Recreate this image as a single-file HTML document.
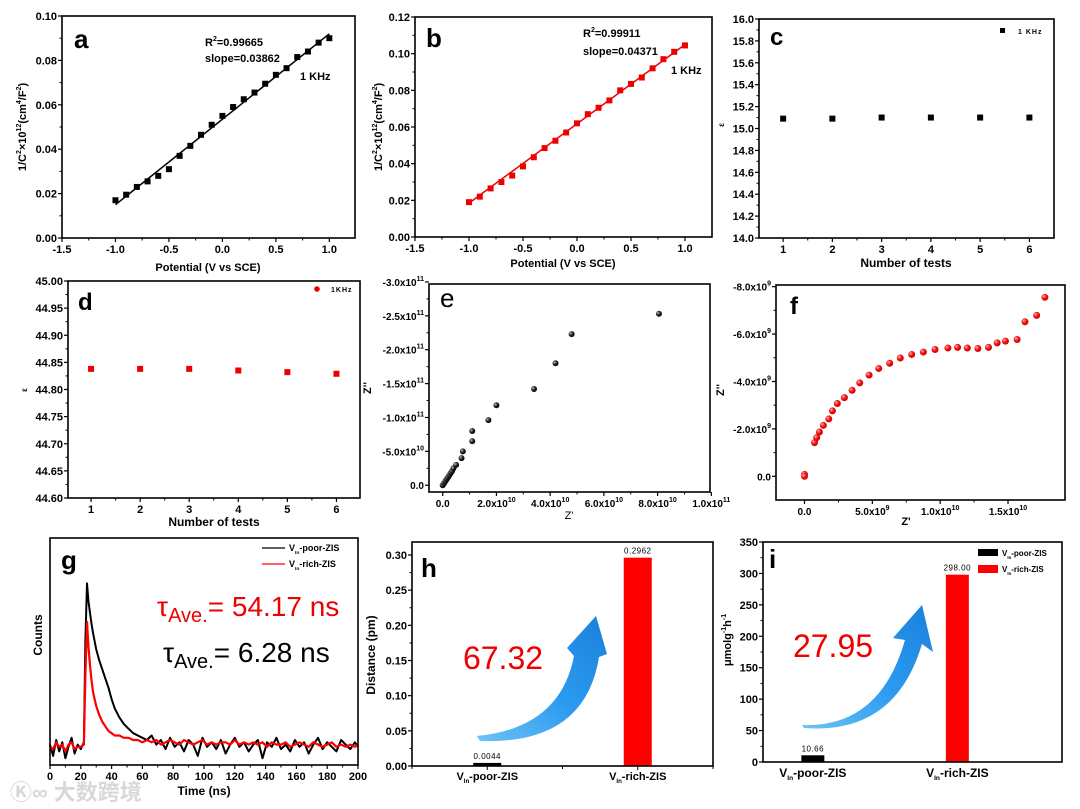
<!DOCTYPE html>
<html><head><meta charset="utf-8"><style>
html,body{margin:0;padding:0;background:#fff;}
svg{display:block;font-family:"Liberation Sans","Noto Sans CJK SC",sans-serif;}
</style></head><body>
<svg id="fig" width="1080" height="809" viewBox="0 0 1080 809" xmlns="http://www.w3.org/2000/svg">
<defs>
<linearGradient id="arrowGrad" x1="0" y1="1" x2="1" y2="0">
<stop offset="0" stop-color="#6ec3f5"/><stop offset="0.5" stop-color="#2a9af0"/><stop offset="1" stop-color="#1b80db"/>
</linearGradient>
<radialGradient id="ballBlack" cx="0.35" cy="0.35" r="0.7"><stop offset="0" stop-color="#bbb"/><stop offset="0.5" stop-color="#222"/><stop offset="1" stop-color="#000"/></radialGradient>
<radialGradient id="ballRed" cx="0.35" cy="0.35" r="0.7"><stop offset="0" stop-color="#ffb0b0"/><stop offset="0.5" stop-color="#f01010"/><stop offset="1" stop-color="#c00"/></radialGradient>
</defs>
</svg>
<script>
// ---------- data ----------
const aX = [-1,-0.9,-0.8,-0.7,-0.6,-0.5,-0.4,-0.3,-0.2,-0.1,0,0.1,0.2,0.3,0.4,0.5,0.6,0.7,0.8,0.9,1.0];
const aY = [0.017,0.0195,0.023,0.0255,0.028,0.031,0.037,0.0415,0.0465,0.051,0.055,0.059,0.0625,0.0655,0.0695,0.0735,0.0765,0.0815,0.084,0.088,0.090];
const aFitX = [-1,1];
const aFitY = [0.015,0.092];
const bX = [-1,-0.9,-0.8,-0.7,-0.6,-0.5,-0.4,-0.3,-0.2,-0.1,0,0.1,0.2,0.3,0.4,0.5,0.6,0.7,0.8,0.9,1.0];
const bY = [0.019,0.022,0.0265,0.030,0.0335,0.0385,0.0435,0.0485,0.0525,0.057,0.062,0.067,0.0705,0.0745,0.080,0.0835,0.087,0.092,0.097,0.101,0.1045];
const bFitX = [-1,1];
const bFitY = [0.0185,0.105];
const cTests = [1,2,3,4,5,6];
const cEps = [15.09,15.09,15.10,15.10,15.10,15.10];
const dTests = [1,2,3,4,5,6];
const dEps = [44.838,44.838,44.838,44.835,44.832,44.829];
// e: Z' in 1e10, -Z'' in 1e11
const eZre = [0,0.05,0.1,0.15,0.2,0.25,0.3,0.35,0.4,0.5,0.7,0.75,1.1,1.1,1.7,2.0,3.4,4.2,4.8,8.05];
const eZim = [0,0.03,0.06,0.09,0.12,0.15,0.18,0.21,0.25,0.3,0.4,0.5,0.65,0.8,0.96,1.18,1.42,1.8,2.23,2.53];
// f: Z' in 1e10, -Z'' in 1e9
const fZre = [0,0,0.074,0.09,0.11,0.139,0.179,0.206,0.242,0.294,0.351,0.407,0.476,0.547,0.628,0.706,0.79,0.876,0.962,1.057,1.128,1.2,1.278,1.356,1.42,1.481,1.567,1.625,1.711,1.772];
const fZim = [0.08,0,1.42,1.63,1.87,2.15,2.42,2.76,3.07,3.32,3.63,3.94,4.27,4.55,4.77,4.99,5.14,5.24,5.35,5.41,5.44,5.41,5.39,5.44,5.63,5.70,5.77,6.52,6.79,7.55];
// g: time-resolved PL
const gTime = [0,2,4,6,8,10,12,14,16,18,20,22,23,24,25,26,27,28,30,32,34,36,38,40,42,45,48,51,54,57,60,63,66,69,72,75,78,81,84,87,90,93,96,99,102,105,108,111,114,117,120,123,126,129,132,135,138,141,144,147,150,153,156,159,162,165,168,171,174,177,180,183,186,189,192,195,198,200];
const gPoor = [9,4,11,6,10,3,8,12,5,9,7,10,55,80,72,67,62,58,51,46,42,38,34,29,25,21,18,16,14,13,12,11,13,9,11,7,12,8,10,6,11,9,4,12,8,10,7,11,5,9,12,8,10,6,9,11,3,10,8,12,7,9,6,11,8,10,5,9,12,7,10,8,6,11,9,7,10,8];
const gRich = [8,7,10,8,9,6,9,10,7,8,8,9,40,63,52,44,37,32,26,22,19,17,15,14,13,13,12,12,11,11,10,11,10,11,9,10,11,10,9,11,10,9,10,11,9,10,9,10,10,9,11,9,10,9,10,9,10,8,10,9,9,10,8,9,10,9,8,10,9,8,9,10,8,9,8,9,8,9];
const hCats = ["poor","rich"];
const hVals = [0.0044,0.2962];
const hLabels = ["0.0044","0.2962"];
const iCats = ["poor","rich"];
const iVals = [10.66,298.00];
const iLabels = ["10.66","298.00"];
const aXTicks = [-1.5,-1.0,-0.5,0.0,0.5,1.0];
const aXTickLabels = ["-1.5","-1.0","-0.5","0.0","0.5","1.0"];
const aYTicks = [0,0.02,0.04,0.06,0.08,0.10];
const aYTickLabels = ["0.00","0.02","0.04","0.06","0.08","0.10"];
const bYTicks = [0,0.02,0.04,0.06,0.08,0.10,0.12];
const bYTickLabels = ["0.00","0.02","0.04","0.06","0.08","0.10","0.12"];
const cXTicks = [1,2,3,4,5,6];
const cXTickLabels = ["1","2","3","4","5","6"];
const cYTicks = [14.0,14.2,14.4,14.6,14.8,15.0,15.2,15.4,15.6,15.8,16.0];
const cYTickLabels = ["14.0","14.2","14.4","14.6","14.8","15.0","15.2","15.4","15.6","15.8","16.0"];
const dYTicks = [44.60,44.65,44.70,44.75,44.80,44.85,44.90,44.95,45.00];
const dYTickLabels = ["44.60","44.65","44.70","44.75","44.80","44.85","44.90","44.95","45.00"];
const eXTicks = [0,2,4,6,8,10];
const eXTickLabels = ["0.0","2.0x10^10","4.0x10^10","6.0x10^10","8.0x10^10","1.0x10^11"];
const eYTicks = [0,0.5,1.0,1.5,2.0,2.5,3.0];
const eYTickLabels = ["0.0","-5.0x10^10","-1.0x10^11","-1.5x10^11","-2.0x10^11","-2.5x10^11","-3.0x10^11"];
const fXTicks = [0,0.5,1.0,1.5];
const fXTickLabels = ["0.0","5.0x10^9","1.0x10^10","1.5x10^10"];
const fYTicks = [0,2,4,6,8];
const fYTickLabels = ["0.0","-2.0x10^9","-4.0x10^9","-6.0x10^9","-8.0x10^9"];
const gXTicks = [0,20,40,60,80,100,120,140,160,180,200];
const gXTickLabels = ["0","20","40","60","80","100","120","140","160","180","200"];
const hYTicks = [0,0.05,0.10,0.15,0.20,0.25,0.30];
const hYTickLabels = ["0.00","0.05","0.10","0.15","0.20","0.25","0.30"];
const iYTicks = [0,50,100,150,200,250,300,350];
const iYTickLabels = ["0","50","100","150","200","250","300","350"];

// ---------- helpers ----------
const NS = "http://www.w3.org/2000/svg";
const svg = document.getElementById('fig');
function mk(tag, attrs, parent) {
  const e = document.createElementNS(NS, tag);
  for (const k in attrs) e.setAttribute(k, attrs[k]);
  (parent || svg).appendChild(e);
  return e;
}
function txt(str, x, y, attrs, parent) {
  const t = mk('text', Object.assign({x: x, y: y}, attrs), parent);
  const parts = str.split('^');
  t.appendChild(document.createTextNode(parts[0]));
  if (parts[1] !== undefined) {
    const s = mk('tspan', {dy: -5, 'font-size': 7}, t);
    s.textContent = parts[1];
  }
  return t;
}
function panel(name, L, T, R, B, xd, yd) {
  const g = mk('g', {});
  
  
  const sx = v => L + (v - xd[0]) / (xd[1] - xd[0]) * (R - L);
  const sy = v => B - (v - yd[0]) / (yd[1] - yd[0]) * (B - T);
  return {g, L, T, R, B, sx, sy};
}
function frame(p) {
  const r = mk('rect', {x: p.L, y: p.T, width: p.R - p.L, height: p.B - p.T, fill: 'none', stroke: '#000', 'stroke-width': 1.6}, p.g);
  
  
}
function xAxis(p, ticks, labels, fs) {
  const ax = mk('g', {}, p.g);
  
  
  ticks.forEach((v, i) => {
    const x = p.sx(v);
    mk('line', {x1: x, y1: p.B, x2: x, y2: p.B + 4, stroke: '#000', 'stroke-width': 1.2}, ax);
    if (i < ticks.length - 1) {
      const xm = p.sx((v + ticks[i + 1]) / 2);
      mk('line', {x1: xm, y1: p.B, x2: xm, y2: p.B + 2.5, stroke: '#000', 'stroke-width': 1}, ax);
    }
    const t = txt(labels[i], x, p.B + 15, {'font-size': fs || 11, 'font-weight': 'bold', 'text-anchor': 'middle'}, ax);
    
    
  });
}
function yAxis(p, ticks, labels, fs) {
  const ax = mk('g', {}, p.g);
  
  
  ticks.forEach((v, i) => {
    const y = p.sy(v);
    mk('line', {x1: p.L, y1: y, x2: p.L - 4, y2: y, stroke: '#000', 'stroke-width': 1.2}, ax);
    if (i < ticks.length - 1) {
      const ym = p.sy((v + ticks[i + 1]) / 2);
      mk('line', {x1: p.L, y1: ym, x2: p.L - 2.5, y2: ym, stroke: '#000', 'stroke-width': 1}, ax);
    }
    const t = txt(labels[i], p.L - 5, y + 4, {'font-size': fs || 11, 'font-weight': 'bold', 'text-anchor': 'end'}, ax);
    
    
  });
}
function squares(p, xs, ys, color, size, name) {
  xs.forEach((v, i) => {
    const r = mk('rect', {x: p.sx(v) - size / 2, y: p.sy(ys[i]) - size / 2, width: size, height: size, fill: color}, p.g);
    
    
  });
}
function balls(p, xs, ys, grad, r0, name) {
  xs.forEach((v, i) => {
    const c = mk('circle', {cx: p.sx(v), cy: p.sy(ys[i]), r: r0, fill: 'url(#' + grad + ')'}, p.g);
    
    
  });
}
function polyline(p, xs, ys, color, w, name) {
  const pts = xs.map((v, i) => p.sx(v).toFixed(1) + ',' + p.sy(ys[i]).toFixed(1)).join(' ');
  const l = mk('polyline', {points: pts, fill: 'none', stroke: color, 'stroke-width': w, 'stroke-linejoin': 'round'}, p.g);
  
  
}
function label(p, str, x, y, attrs, name) {
  const t = txt(str, x, y, attrs, p.g);
  
  
  return t;
}
function rotLabel(p, str, x, y, fs, name) {
  const t = mk('text', {x: 0, y: 0, transform: 'translate(' + x + ',' + y + ') rotate(-90)', 'text-anchor': 'middle', 'font-size': fs, 'font-weight': 'bold'}, p.g);
  
  
  return t;
}
function addSpan(t, s, attrs) { const sp = mk('tspan', attrs || {}, t); sp.textContent = s; return sp; }
function cTitle(p, t) {
  addSpan(t, '1/C');
  addSpan(t, '2', {dy: -5, 'font-size': 7});
  addSpan(t, '×10', {dy: 5});
  addSpan(t, '12', {dy: -5, 'font-size': 7});
  addSpan(t, '(cm', {dy: 5});
  addSpan(t, '4', {dy: -5, 'font-size': 7});
  addSpan(t, '/F', {dy: 5});
  addSpan(t, '2', {dy: -5, 'font-size': 7});
  addSpan(t, ')', {dy: 5});
}
function r2Label(p, x, y, val) {
  const t = mk('text', {x: x, y: y, 'font-size': 11, 'font-weight': 'bold'}, p.g);
  
  
  addSpan(t, 'R'); addSpan(t, '2', {dy: -5, 'font-size': 7}); addSpan(t, '=' + val, {dy: 5});
}
function vinLabel(p, x, y, rest, fs, anchor, name) {
  const t = mk('text', {x: x, y: y, 'font-size': fs, 'font-weight': 'bold', 'text-anchor': anchor || 'middle'}, p.g);
  
  
  addSpan(t, 'V');
  addSpan(t, 'In', {dy: 3, 'font-size': fs * 0.55});
  addSpan(t, rest, {dy: -3});
  return t;
}

// ---------- panel a ----------
const pa = panel('panel-a', 62, 16, 355, 238, [-1.5, 1.24], [0, 0.10]);
frame(pa); xAxis(pa, aXTicks, aXTickLabels); yAxis(pa, aYTicks, aYTickLabels);
polyline(pa, aFitX, aFitY, '#000', 1.5, 'fit-line');
squares(pa, aX, aY, '#000', 6, 'data-point');
label(pa, 'a', 74, 48, {'font-size': 26, 'font-weight': 'bold'}, 'panel-letter');
r2Label(pa, 205, 46, '0.99665');
label(pa, 'slope=0.03862', 205, 62, {'font-size': 11, 'font-weight': 'bold'}, 'slope-label');
label(pa, '1 KHz', 300, 80, {'font-size': 11, 'font-weight': 'bold'}, 'frequency-label');
label(pa, 'Potential (V vs SCE)', 208, 271, {'font-size': 11, 'font-weight': 'bold', 'text-anchor': 'middle'}, 'x-axis-title');
cTitle(pa, rotLabel(pa, '', 26, 127, 11, 'y-axis-title'));

// ---------- panel b ----------
const pb = panel('panel-b', 415, 17, 712, 237, [-1.5, 1.25], [0, 0.12]);
frame(pb); xAxis(pb, aXTicks, aXTickLabels); yAxis(pb, bYTicks, bYTickLabels);
polyline(pb, bFitX, bFitY, '#e00', 1.5, 'fit-line');
squares(pb, bX, bY, '#e00', 6, 'data-point');
label(pb, 'b', 426, 47, {'font-size': 26, 'font-weight': 'bold'}, 'panel-letter');
r2Label(pb, 583, 37, '0.99911');
label(pb, 'slope=0.04371', 583, 55, {'font-size': 11, 'font-weight': 'bold'}, 'slope-label');
label(pb, '1 KHz', 671, 74, {'font-size': 11, 'font-weight': 'bold'}, 'frequency-label');
label(pb, 'Potential (V vs SCE)', 563, 267, {'font-size': 11, 'font-weight': 'bold', 'text-anchor': 'middle'}, 'x-axis-title');
cTitle(pb, rotLabel(pb, '', 382, 127, 11, 'y-axis-title'));

// ---------- panel c ----------
const pc = panel('panel-c', 759, 19, 1054, 238, [0.51, 6.5], [14, 16]);
frame(pc); xAxis(pc, cXTicks, cXTickLabels); yAxis(pc, cYTicks, cYTickLabels);
squares(pc, cTests, cEps, '#000', 6, 'data-point');
label(pc, 'c', 770, 45, {'font-size': 24, 'font-weight': 'bold'}, 'panel-letter');
mk('rect', {x: 1000, y: 28, width: 5, height: 5, fill: '#000'}, pc.g);
label(pc, '1 KHz', 1018, 34, {'font-size': 7, 'font-weight': 'bold', 'letter-spacing': 1}, 'legend-entry');
label(pc, 'Number of tests', 906, 267, {'font-size': 12, 'font-weight': 'bold', 'text-anchor': 'middle'}, 'x-axis-title');
rotLabel(pc, '', 724, 125, 8, 'y-axis-title').textContent = 'ε';

// ---------- panel d ----------
const pd = panel('panel-d', 68, 281, 360, 498, [0.53, 6.48], [44.6, 45.0]);
frame(pd); xAxis(pd, cXTicks, cXTickLabels); yAxis(pd, dYTicks, dYTickLabels);
squares(pd, dTests, dEps, '#e00', 6, 'data-point');
label(pd, 'd', 78, 310, {'font-size': 24, 'font-weight': 'bold'}, 'panel-letter');
mk('circle', {cx: 317, cy: 289, r: 2.8, fill: '#e00'}, pd.g);
label(pd, '1KHz', 331, 292, {'font-size': 7, 'font-weight': 'bold', 'letter-spacing': 1}, 'legend-entry');
label(pd, 'Number of tests', 214, 526, {'font-size': 12, 'font-weight': 'bold', 'text-anchor': 'middle'}, 'x-axis-title');
rotLabel(pd, '', 27, 390, 8, 'y-axis-title').textContent = 'ε';

// ---------- panel e ----------
const pe = panel('panel-e', 429, 284, 710, 492, [-0.51, 9.95], [-0.1, 2.97]);
frame(pe); xAxis(pe, eXTicks, eXTickLabels, 10); yAxis(pe, eYTicks, eYTickLabels, 10);
balls(pe, eZre, eZim, 'ballBlack', 3, 'data-point');
label(pe, 'e', 440, 307, {'font-size': 26}, 'panel-letter');
label(pe, "Z'", 569, 519, {'font-size': 11, 'text-anchor': 'middle'}, 'x-axis-title');
rotLabel(pe, '', 371, 388, 11, 'y-axis-title').textContent = "Z''";

// ---------- panel f ----------
const pf = panel('panel-f', 776, 285, 1065, 500, [-0.21, 1.92], [-1.0, 8.07]);
frame(pf); xAxis(pf, fXTicks, fXTickLabels, 10); yAxis(pf, fYTicks, fYTickLabels, 10);
balls(pf, fZre, fZim, 'ballRed', 3.5, 'data-point');
label(pf, 'f', 790, 314, {'font-size': 24, 'font-weight': 'bold'}, 'panel-letter');
label(pf, "Z'", 906, 525, {'font-size': 11, 'font-weight': 'bold', 'text-anchor': 'middle'}, 'x-axis-title');
rotLabel(pf, '', 724, 390, 11, 'y-axis-title').textContent = "Z''";

// ---------- panel g ----------
const pg = panel('panel-g', 50, 538, 358, 765, [0, 200], [0, 100]);
polyline(pg, gTime, gPoor, '#000', 2, 'series-poor');
polyline(pg, gTime, gRich, '#f00', 2.2, 'series-rich');
frame(pg); xAxis(pg, gXTicks, gXTickLabels);
label(pg, 'g', 61, 569, {'font-size': 26, 'font-weight': 'bold'}, 'panel-letter');
mk('line', {x1: 262, y1: 548, x2: 285, y2: 548, stroke: '#000', 'stroke-width': 1.2}, pg.g);
mk('line', {x1: 262, y1: 564, x2: 285, y2: 564, stroke: '#f00', 'stroke-width': 1.2}, pg.g);
vinLabel(pg, 289, 551, '-poor-ZIS', 9, 'start', 'legend-entry-poor');
vinLabel(pg, 289, 567, '-rich-ZIS', 9, 'start', 'legend-entry-rich');
(function(){
  const t1 = mk('text', {x: 157, y: 616, 'font-size': 28, fill: '#e00'}, pg.g);
  
  
  addSpan(t1, 'τ'); addSpan(t1, 'Ave.', {dy: 6, 'font-size': 20}); addSpan(t1, '= 54.17 ns', {dy: -6});
  const t2 = mk('text', {x: 163, y: 662, 'font-size': 28, fill: '#000'}, pg.g);
  
  
  addSpan(t2, 'τ'); addSpan(t2, 'Ave.', {dy: 6, 'font-size': 20}); addSpan(t2, '= 6.28 ns', {dy: -6});
})();
label(pg, 'Time (ns)', 204, 795, {'font-size': 12, 'font-weight': 'bold', 'text-anchor': 'middle'}, 'x-axis-title');
rotLabel(pg, '', 42, 635, 12, 'y-axis-title').textContent = 'Counts';

// ---------- panel h ----------
const ph = panel('panel-h', 412, 542, 713, 766, [0, 2], [0, 0.3185]);
yAxis(ph, hYTicks, hYTickLabels);
const hPos = [0.5, 1.5];
hVals.forEach((v, i) => {
  const x = ph.sx(hPos[i]);
  const r = mk('rect', {x: x - 14, y: ph.sy(v), width: 28, height: ph.sy(0) - ph.sy(v), fill: i ? '#f00' : '#000'}, ph.g);
  
  
  label(ph, hLabels[i], x, ph.sy(v) - 4, {'font-size': 8, 'text-anchor': 'middle', 'letter-spacing': 0.5}, 'bar-value-label');
  vinLabel(ph, x, 780, '-' + hCats[i] + '-ZIS', 11, 'middle', 'x-category-label');
  mk('line', {x1: x, y1: ph.B, x2: x, y2: ph.B + 4, stroke: '#000'}, ph.g);
});
[0, 1, 2].forEach(v => mk('line', {x1: ph.sx(v), y1: ph.B, x2: ph.sx(v), y2: ph.B + 3, stroke: '#000'}, ph.g));
frame(ph);
(function(){
  const a = mk('path', {d: 'M477,736 Q560,728 574,656 L567,648 L596,616 L607,654 L599,657 Q585,745 480,741 Z', fill: 'url(#arrowGrad)'}, ph.g);
  
  
})();
label(ph, '67.32', 503, 669, {'font-size': 32, fill: '#e00', 'text-anchor': 'middle'}, 'ratio-label');
rotLabel(ph, '', 375, 655, 12, 'y-axis-title').textContent = 'Distance (pm)';

// ---------- panel i ----------
const pi = panel('panel-i', 763, 542, 1062, 762, [0, 3.0], [0, 350]);
yAxis(pi, iYTicks, iYTickLabels);
const iPos = [0.5, 1.95];
iVals.forEach((v, i) => {
  const x = pi.sx(iPos[i]);
  const r = mk('rect', {x: x - 11.5, y: pi.sy(v), width: 23, height: pi.sy(0) - pi.sy(v), fill: i ? '#f00' : '#000'}, pi.g);
  
  
  label(pi, iLabels[i], x, pi.sy(v) - 4, {'font-size': 8, 'text-anchor': 'middle', 'letter-spacing': 0.5}, 'bar-value-label');
  vinLabel(pi, x, 777, '-' + iCats[i] + '-ZIS', 12, 'middle', 'x-category-label');
});
frame(pi);
(function(){
  const a = mk('path', {d: 'M802,725 Q880,728 905,640 L893,638 L922,605 L933,652 L922,644 Q895,735 804,728 Z', fill: 'url(#arrowGrad)'}, pi.g);
  
  
})();
label(pi, '27.95', 833, 657, {'font-size': 32, fill: '#e00', 'text-anchor': 'middle'}, 'ratio-label');
label(pi, 'i', 769, 568, {'font-size': 26, 'font-weight': 'bold'}, 'panel-letter');
label(ph, 'h', 421, 577, {'font-size': 26, 'font-weight': 'bold'}, 'panel-letter');
mk('rect', {x: 978, y: 549, width: 20, height: 7, fill: '#000'}, pi.g);
mk('rect', {x: 978, y: 565, width: 20, height: 8, fill: '#f00'}, pi.g);
vinLabel(pi, 1002, 556, '-poor-ZIS', 8, 'start', 'legend-entry-poor');
vinLabel(pi, 1002, 572, '-rich-ZIS', 8, 'start', 'legend-entry-rich');
(function(){
  const t = mk('text', {x: 0, y: 0, transform: 'translate(731,640) rotate(-90)', 'text-anchor': 'middle', 'font-size': 11, 'font-weight': 'bold'}, pi.g);
  
  
  addSpan(t, 'μmolg'); addSpan(t, '-1', {dy: -5, 'font-size': 7}); addSpan(t, 'h', {dy: 5}); addSpan(t, '-1', {dy: -5, 'font-size': 7});
})();

// watermark
(function(){
  const w = mk('text', {x: 10, y: 800, 'font-size': 22, fill: '#d8d8d8', 'font-weight': 'bold'});
  
  
  w.textContent = 'Ⓚ∞ 大数跨境';
})();
</script>
</body></html>
